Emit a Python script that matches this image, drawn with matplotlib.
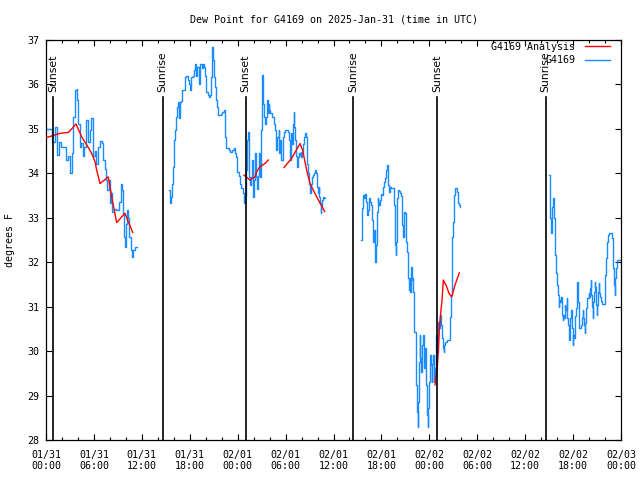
import matplotlib
matplotlib.use("Agg")
import matplotlib.pyplot as plt
from matplotlib.ticker import FixedLocator

# ---------------- data (hours since 2025-01-31 00:00 UTC, degrees F) ----------------
obs_t1 = [0.00, 0.59, 0.75, 1.09, 1.42, 1.63, 1.84, 2.17, 2.47, 2.75, 3.00, 3.22, 3.42, 3.63, 3.84,
          3.92, 4.04, 4.22, 4.42, 4.63, 4.80, 4.97, 5.17, 5.30, 5.51, 5.67, 5.89, 6.10, 6.26, 6.55,
          6.76, 6.97, 7.18, 7.39, 7.51, 7.68, 7.89, 8.01, 8.18, 8.30, 8.51, 8.73, 8.93, 9.14, 9.35,
          9.52, 9.64, 9.77, 9.89, 10.02, 10.14, 10.27, 10.43, 10.61, 10.77, 10.93, 11.11, 11.36]
obs_v1 = [35.00, 35.00, 34.71, 35.05, 34.41, 34.70, 34.60, 34.60, 34.30, 34.40, 34.00, 34.45, 35.27, 35.87, 35.90,
          35.65, 35.10, 34.60, 34.68, 34.40, 34.60, 35.20, 35.20, 34.70, 34.98, 35.25, 34.40, 34.50, 34.22, 34.60,
          34.73, 34.68, 34.30, 34.10, 33.85, 33.62, 33.85, 33.33, 33.55, 33.14, 33.20, 33.18, 33.18, 33.35, 33.77,
          33.62, 33.10, 32.57, 32.35, 32.85, 33.17, 33.00, 32.57, 32.27, 32.12, 32.27, 32.35, 32.35]

obs_t2 = [15.36, 15.53, 15.65, 15.78, 15.90, 16.03, 16.15, 16.28, 16.40, 16.53, 16.62, 16.74, 16.90, 17.03, 17.15,
          17.32, 17.44, 17.57, 17.74, 17.87, 18.03, 18.19, 18.37, 18.53, 18.70, 18.82, 18.95, 19.12, 19.25, 19.41,
          19.53, 19.66, 19.82, 19.95, 20.07, 20.25, 20.41, 20.53, 20.66, 20.79, 20.91, 21.04, 21.16, 21.29, 21.41,
          21.54, 21.66, 21.83, 21.95, 22.08, 22.25, 22.38, 22.45, 22.54, 22.70, 22.88, 23.04, 23.17, 23.33, 23.50,
          23.67, 23.79, 23.95, 24.13, 24.29, 24.46, 24.63, 24.76, 24.83, 24.92, 25.04, 25.13, 25.21, 25.29, 25.38,
          25.46, 25.54, 25.67, 25.80, 25.88, 25.96, 26.08, 26.21, 26.30, 26.38, 26.51, 26.58, 26.71, 26.80, 26.92,
          27.01, 27.09, 27.17, 27.21, 27.30, 27.42, 27.55, 27.64, 27.76, 27.89, 27.96, 28.05, 28.26, 28.46, 28.59,
          28.68, 28.76, 28.89, 29.01, 29.14, 29.21, 29.34, 29.46, 29.64, 29.76, 29.93, 30.14, 30.34, 30.47, 30.55,
          30.64, 30.72, 30.84, 30.97, 31.05, 31.09, 31.18, 31.27, 31.39, 31.47, 31.56, 31.64, 31.72, 31.81, 31.89,
          31.97, 32.06, 32.14, 32.22, 32.34, 32.43, 32.56, 32.64, 32.72, 32.85, 32.97, 33.06, 33.14, 33.27, 33.40,
          33.56, 33.68, 33.81, 33.90, 33.97, 34.06, 34.15, 34.22, 34.31, 34.40, 34.47, 34.56, 34.65, 34.81, 34.97]
obs_v2 = [33.62, 33.33, 33.47, 33.77, 34.15, 34.75, 34.97, 35.27, 35.50, 35.61, 35.25, 35.60, 35.62, 35.87, 35.87,
          35.87, 36.17, 36.20, 36.10, 36.00, 35.87, 36.17, 36.20, 36.32, 36.47, 36.20, 36.40, 36.00, 36.47, 36.47,
          36.37, 36.47, 36.40, 36.20, 35.83, 35.76, 35.72, 35.76, 36.17, 36.85, 36.55, 36.17, 35.95, 35.65, 35.50,
          35.31, 35.31, 35.31, 35.34, 35.39, 35.42, 35.27, 34.82, 34.56, 34.56, 34.52, 34.49, 34.49, 34.52, 34.56,
          34.45, 34.37, 34.04, 33.93, 33.77, 33.66, 33.55, 33.40, 33.33, 33.50, 34.07, 34.37, 34.75, 34.94, 34.70,
          33.92, 33.73, 33.92, 34.30, 33.80, 33.47, 33.85, 34.45, 33.92, 33.65, 33.75, 33.95, 34.45, 33.92, 34.97,
          35.80, 36.21, 35.95, 35.57, 35.27, 35.12, 35.27, 35.65, 35.35, 35.57, 35.42, 35.35, 35.27, 35.27, 35.12,
          34.97, 34.52, 34.82, 34.82, 34.97, 34.45, 34.75, 34.30, 34.82, 34.94, 34.97, 34.97, 34.94, 34.75, 34.30,
          34.52, 34.90, 34.67, 35.12, 35.39, 35.05, 34.75, 34.40, 34.40, 34.15, 34.37, 34.45, 34.41, 34.45, 34.48,
          34.37, 34.45, 34.60, 34.67, 34.82, 34.90, 34.82, 34.52, 34.22, 34.00, 33.77, 33.55, 33.77, 33.92, 33.96,
          34.00, 34.07, 34.00, 33.92, 33.70, 33.55, 33.70, 33.47, 33.33, 33.10, 33.25, 33.40, 33.47, 33.45, 33.45]

obs_t3 = [39.44, 39.53, 39.61, 39.73, 39.86, 39.98, 40.11, 40.20, 40.28, 40.41, 40.48, 40.61, 40.73, 40.82, 40.91,
          40.98, 41.07, 41.16, 41.23, 41.32, 41.41, 41.53, 41.61, 41.70, 41.78, 41.95, 42.11, 42.20, 42.32, 42.45,
          42.54, 42.66, 42.79, 42.86, 42.99, 43.08, 43.20, 43.36, 43.54, 43.61, 43.70, 43.79, 43.86, 43.95, 44.04,
          44.16, 44.29, 44.41, 44.54, 44.62, 44.70, 44.79, 44.86, 44.95, 45.04, 45.12, 45.20, 45.29, 45.37, 45.45,
          45.54, 45.62, 45.70, 45.79, 45.87, 45.96, 46.04, 46.12, 46.21, 46.29, 46.37, 46.46, 46.54, 46.62, 46.71,
          46.79, 46.87, 46.96, 47.04, 47.12, 47.20, 47.29, 47.37, 47.45, 47.54, 47.62, 47.71, 47.79, 47.87, 47.96,
          48.04, 48.12, 48.21, 48.29, 48.37, 48.46, 48.54, 48.62, 48.71, 48.79, 48.87, 48.96, 49.05, 49.12, 49.21,
          49.30, 49.37, 49.46, 49.55, 49.62, 49.71, 49.80, 49.87, 49.96, 50.18, 50.38, 50.55, 50.63, 50.71, 50.80,
          50.87, 50.96, 51.05, 51.12, 51.21, 51.38, 51.46, 51.55, 51.63, 51.71, 51.80]
obs_v3 = [32.50, 32.76, 33.21, 33.51, 33.44, 33.54, 33.36, 33.06, 33.17, 33.29, 33.44, 33.36, 33.29, 32.95, 32.61,
          32.46, 32.72, 32.31, 32.01, 32.39, 33.14, 33.44, 33.36, 33.29, 33.41, 33.54, 33.51, 33.70, 33.81, 33.89,
          34.07, 34.19, 34.04, 33.74, 33.59, 33.70, 33.66, 33.68, 33.66, 33.29, 32.39, 32.16, 32.46, 33.44, 33.63,
          33.60, 33.55, 33.48, 33.21, 32.84, 32.57, 32.84, 33.14, 33.10, 32.91, 32.46, 32.24, 31.90, 31.64, 31.37,
          31.64, 31.34, 31.90, 31.60, 31.64, 31.34, 31.04, 30.44, 30.44, 29.91, 29.24, 28.64, 28.30, 28.86, 29.76,
          30.36, 29.84, 29.54, 29.76, 30.14, 30.36, 30.14, 29.61, 30.06, 29.61, 29.24, 28.56, 28.30, 28.71, 29.31,
          29.61, 29.91, 29.69, 29.31, 29.72, 29.91, 29.61, 29.31, 29.61, 29.91, 30.36, 29.99, 30.59, 30.66, 30.51,
          30.59, 30.81, 30.59, 30.44, 30.29, 30.06, 29.99, 30.14, 30.21, 30.25, 30.25, 30.25, 30.77, 31.26, 31.79,
          32.57, 32.91, 33.29, 33.51, 33.66, 33.66, 33.59, 33.48, 33.33, 33.29, 33.25]

obs_t4 = [62.99, 63.07, 63.15, 63.24, 63.32, 63.40, 63.49, 63.57, 63.65, 63.74, 63.83, 63.95, 64.03, 64.12, 64.20,
          64.28, 64.36, 64.45, 64.53, 64.61, 64.70, 64.78, 64.86, 64.95, 65.03, 65.11, 65.20, 65.28, 65.36, 65.45,
          65.53, 65.61, 65.70, 65.78, 65.86, 65.95, 66.03, 66.12, 66.20, 66.28, 66.37, 66.45, 66.53, 66.62, 66.70,
          66.78, 66.95, 67.03, 67.12, 67.20, 67.28, 67.37, 67.45, 67.53, 67.62, 67.70, 67.78, 67.86, 67.95, 68.03,
          68.12, 68.20, 68.28, 68.37, 68.45, 68.53, 68.62, 68.70, 68.78, 68.87, 68.95, 69.03, 69.12, 69.20, 69.28,
          69.37, 69.45, 69.66, 69.87, 69.96, 70.03, 70.12, 70.20, 70.28, 70.37, 70.45, 70.61, 70.78, 70.87, 70.95,
          71.03, 71.11, 71.20, 71.28, 71.37, 71.45, 71.53, 71.87, 72.00]
obs_v4 = [33.96, 33.62, 32.99, 32.65, 32.99, 33.25, 33.44, 33.21, 32.99, 32.16, 31.75, 31.71, 31.49, 31.26, 31.00,
          31.15, 31.11, 31.11, 31.22, 30.81, 30.70, 30.81, 30.74, 31.04, 30.96, 30.93, 31.19, 30.74, 30.59, 30.48,
          30.25, 30.74, 30.89, 30.93, 30.51, 30.14, 30.36, 30.29, 30.74, 30.78, 30.96, 31.34, 31.56, 31.11, 30.74,
          30.51, 30.51, 30.59, 30.74, 30.93, 30.74, 30.59, 30.40, 30.63, 30.96, 31.00, 31.19, 31.19, 31.30, 31.22,
          31.41, 31.60, 31.26, 31.00, 30.74, 31.11, 31.34, 31.56, 31.45, 31.04, 30.81, 31.04, 31.34, 31.53, 31.30,
          31.22, 31.12, 31.05, 31.05, 31.26, 31.71, 32.09, 32.31, 32.46, 32.61, 32.66, 32.66, 32.66, 32.54, 32.24,
          31.86, 31.49, 31.26, 31.64, 31.86, 32.01, 32.05, 32.05, 32.05]

ana_t1 = [0.00, 1.75, 2.79, 3.22, 3.76, 4.47, 5.10, 5.72, 6.14, 6.35, 6.76, 7.60, 7.80, 8.23, 8.85, 9.48, 9.89, 10.31, 10.86]
ana_v1 = [34.80, 34.90, 34.92, 35.00, 35.11, 34.82, 34.64, 34.45, 34.26, 34.07, 33.77, 33.89, 33.92, 33.47, 32.89, 33.02, 33.10, 32.91, 32.67]
ana_t2 = [24.79, 25.54, 26.17, 26.38, 26.80, 27.42, 27.84]
ana_v2 = [33.96, 33.85, 33.92, 34.04, 34.15, 34.22, 34.30]
ana_t3 = [29.80, 30.77, 31.81, 32.14, 32.64, 33.06, 33.47, 33.90, 34.31, 34.90]
ana_v3 = [34.13, 34.34, 34.67, 34.52, 34.07, 33.77, 33.62, 33.47, 33.33, 33.14]
ana_t4 = [48.71, 49.00, 49.12, 49.25, 49.42, 49.59, 49.75, 50.17, 50.46, 50.80, 51.22, 51.75]
ana_v4 = [29.24, 29.65, 29.99, 30.47, 30.85, 31.15, 31.60, 31.45, 31.30, 31.22, 31.49, 31.76]

sun_times = [0.91, 14.60, 25.00, 38.48, 49.00, 62.57]
sun_labels = ["Sunset", "Sunrise", "Sunset", "Sunrise", "Sunset", "Sunrise"]

xtick_hours = [0, 6, 12, 18, 24, 30, 36, 42, 48, 54, 60, 66, 72]
xtick_labels = ["01/31\n00:00", "01/31\n06:00", "01/31\n12:00", "01/31\n18:00",
                "02/01\n00:00", "02/01\n06:00", "02/01\n12:00", "02/01\n18:00",
                "02/02\n00:00", "02/02\n06:00", "02/02\n12:00", "02/02\n18:00",
                "02/03\n00:00"]
ytick_values = [28, 29, 30, 31, 32, 33, 34, 35, 36, 37]

title = "Dew Point for G4169 on 2025-Jan-31 (time in UTC)"
ylabel = "degrees F"
label_ana = "G4169 Analysis"
label_obs = "G4169"

# ---------------- drawing ----------------
MONO = "DejaVu Sans Mono"
FS = 7.2
BLUE = "#1a8cff"
RED = "#ff0000"

fig = plt.figure(figsize=(6.4, 4.8), dpi=100)
ax = fig.add_axes([46 / 640, 40 / 480, 575 / 640, 400 / 480])

obs_segments = [(obs_t1, obs_v1), (obs_t2, obs_v2), (obs_t3, obs_v3), (obs_t4, obs_v4)]
ana_segments = [(ana_t1, ana_v1), (ana_t2, ana_v2), (ana_t3, ana_v3), (ana_t4, ana_v4)]

for i, (t, v) in enumerate(obs_segments):
    ax.plot(t, v, color=BLUE, lw=1.0, drawstyle="steps-post", zorder=2,
            label=label_obs if i == 0 else None)
for i, (t, v) in enumerate(ana_segments):
    ax.plot(t, v, color=RED, lw=1.0, zorder=3,
            label=label_ana if i == 0 else None)

for t, lab in zip(sun_times, sun_labels):
    ax.plot([t, t], [28, 35.72], color="black", lw=1.2, zorder=4)
    ax.text(t, 35.83, lab, rotation=90, ha="center", va="bottom",
            fontsize=7.8, family="DejaVu Sans", zorder=5)

ax.set_xlim(0, 72)
ax.set_ylim(28, 37)
ax.xaxis.set_major_locator(FixedLocator(xtick_hours))
ax.set_xticklabels(xtick_labels, family=MONO, fontsize=FS)
ax.xaxis.set_minor_locator(FixedLocator([h for h in range(0, 73, 2)]))
ax.set_yticks(ytick_values)
ax.set_yticklabels([str(v) for v in ytick_values], family=MONO, fontsize=FS)
ax.tick_params(which="major", direction="in", top=True, right=True, length=4.5, width=0.8, pad=5)
ax.tick_params(which="minor", direction="in", top=True, right=True, length=2.5, width=0.8)
ax.tick_params(axis="x", which="major", pad=7)
for s in ax.spines.values():
    s.set_linewidth(0.9)
    s.set_color("black")

fig.text(333.5 / 640, 1 - 19 / 480, title, ha="center", va="center", family=MONO, fontsize=FS)
fig.text(10 / 640, 0.5, ylabel, rotation=90, ha="center", va="center", family=MONO, fontsize=FS)

handles, labels = ax.get_legend_handles_labels()
order = [labels.index(label_ana), labels.index(label_obs)]
leg = ax.legend([handles[i] for i in order], [labels[i] for i in order],
                loc="upper right", bbox_to_anchor=((610 - 46) / 575, (440 - 42) / 400),
                frameon=False, markerfirst=False, borderaxespad=0, borderpad=0,
                handlelength=2.5, handletextpad=1.0, labelspacing=0.35,
                prop={"family": MONO, "size": FS})
leg._legend_box.align = "right"
leg.set_zorder(6)

fig.savefig("out.png", dpi=100)
